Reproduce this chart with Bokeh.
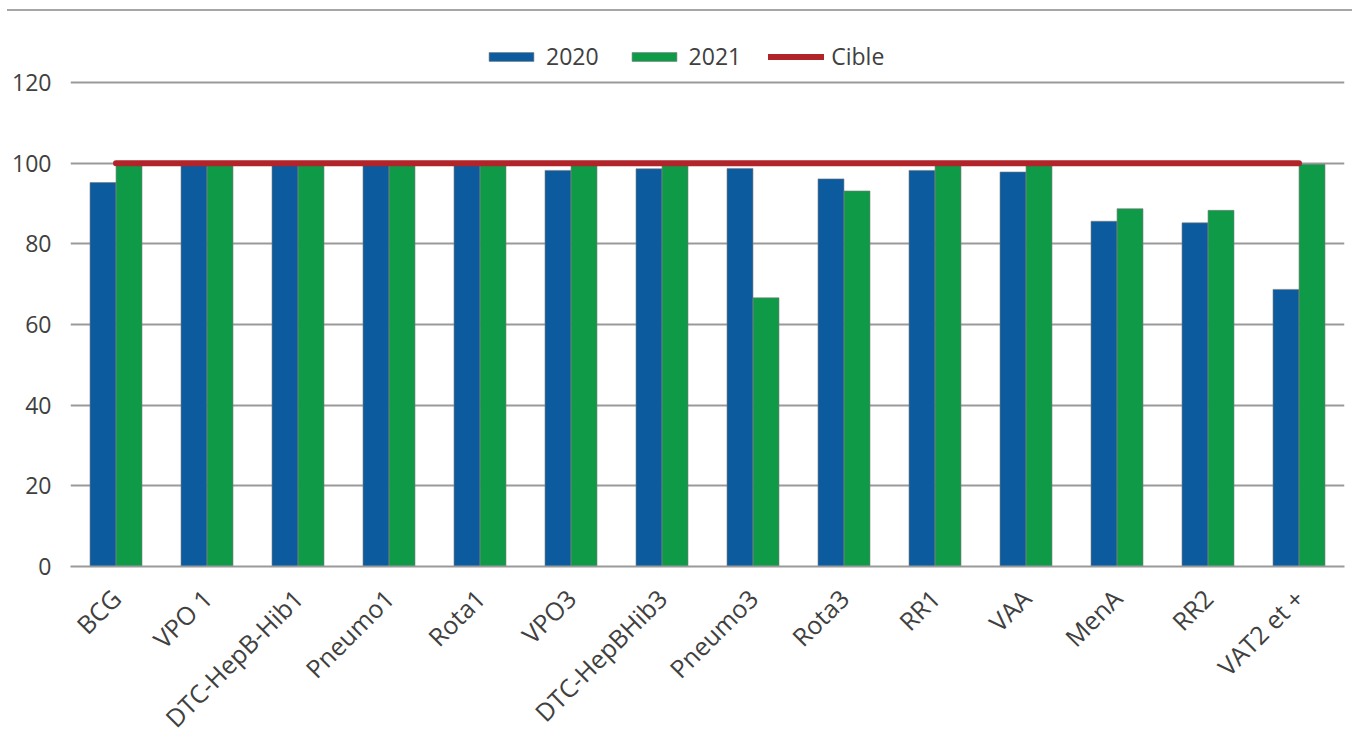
from bokeh.plotting import figure
from bokeh.models import FactorRange, Range1d, FixedTicker, Legend, LegendItem, Div
from bokeh.transform import dodge
from bokeh.layouts import column
from bokeh.embed import file_html
from bokeh.resources import INLINE

# Couverture vaccinale (%) par antigène
vaccins = ["BCG", "VPO 1", "DTC-HepB-Hib1", "Pneumo1", "Rota1", "VPO3",
           "DTC-HepBHib3", "Pneumo3", "Rota3", "RR1", "VAA", "MenA", "RR2",
           "VAT2 et +"]
couverture_2020 = [95.2, 100, 100, 100, 100, 98.2, 98.6, 98.7, 96.1, 98.2,
                   97.8, 85.6, 85.2, 68.7]
couverture_2021 = [100, 100, 100, 100, 100, 100, 100, 66.6, 93.1, 100, 100,
                   88.7, 88.3, 99.7]
cible = [100] * len(vaccins)
graduations = [0, 20, 40, 60, 80, 100, 120]

FONT = "Open Sans"
TEXT = "#404040"
BLEU = "#0b5b9e"
VERT = "#0f9a48"
ROUGE = "#b0242a"
GRILLE = "#9a9a9a"

source = dict(vaccin=vaccins, a2020=couverture_2020, a2021=couverture_2021,
              cible=cible)

p = figure(x_range=FactorRange(*vaccins), y_range=Range1d(0, 137.6),
           width=1352, height=740, output_backend="svg",
           toolbar_location=None, min_border_left=70, min_border_right=8,
           min_border_top=0, min_border_bottom=185)
p.outline_line_color = None
p.background_fill_color = "white"
p.border_fill_color = "white"

b1 = p.vbar(x=dodge("vaccin", -0.143, range=p.x_range), top="a2020",
            width=0.285, source=source, fill_color=BLEU,
            line_color="#7a7a7a", line_alpha=0.6, line_width=1)
b2 = p.vbar(x=dodge("vaccin", 0.143, range=p.x_range), top="a2021",
            width=0.285, source=source, fill_color=VERT,
            line_color="#7a7a7a", line_alpha=0.6, line_width=1)
l1 = p.line(x="vaccin", y="cible", source=source, line_color=ROUGE,
            line_width=6, line_cap="round")

# axes
p.yaxis.ticker = FixedTicker(ticks=graduations)
p.yaxis.axis_line_color = None
p.yaxis.major_tick_line_color = None
p.yaxis.minor_tick_line_color = None
p.yaxis.major_label_standoff = 13
p.yaxis.major_label_text_font = FONT
p.yaxis.major_label_text_font_size = "23px"
p.yaxis.major_label_text_color = TEXT

p.xaxis.axis_line_color = GRILLE
p.xaxis.axis_line_width = 2
p.xaxis.major_tick_line_color = None
p.xaxis.minor_tick_line_color = None
p.xaxis.major_label_orientation = 0.785398
p.xaxis.major_label_standoff = 21
p.xaxis.major_label_text_font = FONT
p.xaxis.major_label_text_font_size = "25px"
p.xaxis.major_label_text_color = TEXT

p.xgrid.grid_line_color = None
p.ygrid.grid_line_color = GRILLE
p.ygrid.grid_line_width = 2

legend = Legend(items=[LegendItem(label="2020", renderers=[b1]),
                       LegendItem(label="2021", renderers=[b2]),
                       LegendItem(label="Cible", renderers=[l1])],
                orientation="horizontal", location=(413, 494),
                glyph_width=56, glyph_height=11, label_standoff=7,
                spacing=27, padding=0, margin=0,
                label_text_font=FONT, label_text_font_size="23px",
                label_text_color=TEXT, border_line_color=None,
                background_fill_alpha=0)
p.add_layout(legend)

# filet supérieur
filet = Div(text="", width=1345, height=11, margin=(0, 0, 0, 7),
            styles={"border-bottom": "2px solid #a6a6a6"})

page = column(filet, p, spacing=0)
open("out.html", "w").write(file_html(page, INLINE))
